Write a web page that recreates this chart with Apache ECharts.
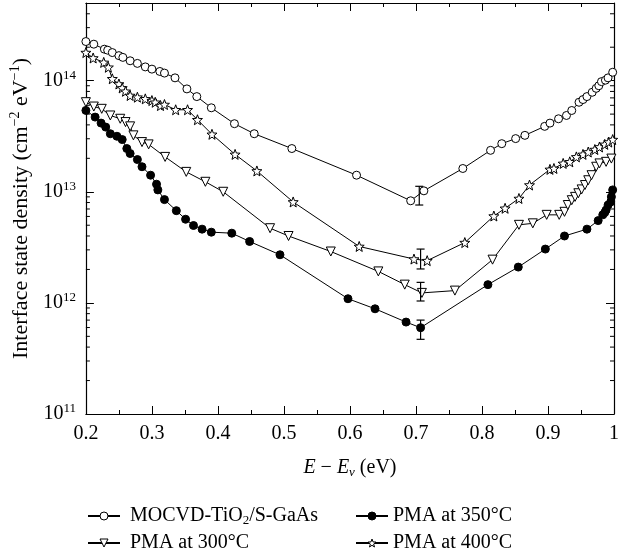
<!DOCTYPE html>
<html>
<head>
<meta charset="utf-8">
<script src="https://cdn.jsdelivr.net/npm/echarts@6/dist/echarts.min.js"></script>
<style>
html,body{margin:0;padding:0;background:#fff;}
#chart{width:633px;height:552px;}
</style>
</head>
<body>
<div id="chart"></div>
<script>
// ---- Data ----
const seriesNames = ['MOCVD-TiO2/S-GaAs', 'PMA at 300°C', 'PMA at 350°C', 'PMA at 400°C'];

const mocvdE = [0.200,0.212,0.228,0.233,0.240,0.250,0.256,0.267,0.278,0.290,0.300,0.312,0.319,0.335,0.353,0.368,0.390,0.425,0.455,0.512,0.610,0.692,0.712,0.771,0.813,0.830,0.851,0.865,0.895,0.903,0.916,0.928,0.936,0.947,0.953,0.959,0.967,0.973,0.977,0.981,0.987,0.991,0.998];
const mocvdD = [2.25e14,2.13e14,1.92e14,1.88e14,1.79e14,1.68e14,1.62e14,1.51e14,1.43e14,1.33e14,1.27e14,1.21e14,1.17e14,1.06e14,8.43e13,7.19e13,5.70e13,4.10e13,3.33e13,2.45e13,1.41e13,8.3e12,1.02e13,1.62e13,2.36e13,2.71e13,3.01e13,3.22e13,3.88e13,4.15e13,4.54e13,4.86e13,5.39e13,6.39e13,6.76e13,7.19e13,7.86e13,8.53e13,9.0e13,9.8e13,1.01e14,1.06e14,1.19e14];

const pma300E = [0.200,0.212,0.224,0.237,0.252,0.260,0.267,0.272,0.285,0.295,0.320,0.352,0.381,0.408,0.479,0.507,0.571,0.643,0.683,0.709,0.759,0.816,0.856,0.877,0.898,0.917,0.925,0.930,0.936,0.941,0.946,0.951,0.956,0.961,0.966,0.973,0.978,0.988,0.996];
const pma300D = [6.4e13,5.85e13,5.58e13,4.86e13,4.54e13,4.24e13,3.88e13,3.22e13,2.80e13,2.67e13,2.06e13,1.51e13,1.23e13,1.0e13,4.7e12,4.0e12,2.90e12,1.92e12,1.46e12,1.23e12,1.29e12,2.45e12,5.04e12,5.2e12,6.2e12,6.2e12,6.6e12,7.6e12,8.4e12,9.0e12,9.7e12,1.05e13,1.15e13,1.27e13,1.41e13,1.68e13,1.80e13,1.86e13,1.99e13];

const pma350E = [0.200,0.214,0.223,0.230,0.237,0.247,0.255,0.262,0.267,0.278,0.285,0.298,0.307,0.309,0.319,0.337,0.351,0.363,0.376,0.390,0.421,0.448,0.494,0.597,0.638,0.685,0.707,0.809,0.855,0.896,0.925,0.959,0.976,0.983,0.986,0.988,0.991,0.995,0.996,0.998];
const pma350D = [5.4e13,4.70e13,4.15e13,3.82e13,3.33e13,3.16e13,2.95e13,2.45e13,2.21e13,1.95e13,1.68e13,1.41e13,1.17e13,1.04e13,8.5e12,6.76e12,5.66e12,4.97e12,4.61e12,4.33e12,4.24e12,3.57e12,2.71e12,1.09e12,8.85e11,6.72e11,5.98e11,1.46e12,2.10e12,3.05e12,4.0e12,4.61e12,5.5e12,6.2e12,6.5e12,6.85e12,7.6e12,8.1e12,9.0e12,1.04e13];

const pma400E = [0.200,0.211,0.227,0.234,0.240,0.250,0.255,0.260,0.267,0.278,0.290,0.300,0.305,0.313,0.319,0.336,0.354,0.369,0.391,0.426,0.459,0.514,0.614,0.697,0.717,0.774,0.818,0.835,0.856,0.872,0.903,0.909,0.923,0.933,0.943,0.953,0.961,0.971,0.978,0.986,0.992,0.998];
const pma400D = [1.79e14,1.60e14,1.46e14,1.32e14,1.04e14,9.33e13,8.6e13,8.02e13,7.35e13,7.1e13,6.86e13,6.62e13,6.39e13,5.97e13,6.1e13,5.47e13,5.47e13,4.45e13,3.29e13,2.17e13,1.54e13,8.1e12,3.22e12,2.48e12,2.40e12,3.49e12,6.05e12,7.1e12,8.7e12,1.15e13,1.59e13,1.62e13,1.80e13,1.86e13,2.06e13,2.17e13,2.28e13,2.40e13,2.53e13,2.67e13,2.80e13,2.95e13];

// error bars: [E, low, high]
const errorBars = [
  [0.705, 7.6e12, 1.12e13],
  [0.707, 2.02e12, 3.05e12],
  [0.707, 1.04e12, 1.53e12],
  [0.707, 4.7e11, 7.0e11]
];

// axes
const xMin = 0.2, xMax = 1.0, xInterval = 0.1;
const yMin = 1e11, yMax = 5e14;
const yMinorTicks = [2e11,3e11,4e11,5e11,6e11,7e11,8e11,9e11,2e12,3e12,4e12,5e12,6e12,7e12,8e12,9e12,2e13,3e13,4e13,5e13,6e13,7e13,8e13,9e13,2e14,3e14,4e14];

// ---- Chart ----
const FONT = 'Liberation Serif';
const FS = 20;
const pair = (xs, ys) => xs.map((x, i) => [x, ys[i]]);
const starPath = 'path://M50 0 L62.34 33.01 L97.55 34.55 L69.97 56.49 L79.39 90.45 L50 71 L20.61 90.45 L30.03 56.49 L2.45 34.55 L37.66 33.01 Z';
const symbols = ['circle', 'triangle', 'circle', starPath];
const fills = ['#fff', '#fff', '#000', '#fff'];

const chart = echarts.init(document.getElementById('chart'), null, {renderer: 'canvas'});

function lineSeries(i, data, size, rotate) {
  return {
    name: seriesNames[i], type: 'line', data: data, xAxisIndex: 0, yAxisIndex: 0,
    symbol: symbols[i], symbolSize: size, symbolRotate: rotate || 0, showAllSymbol: true,
    lineStyle: {color: '#000', width: 1},
    itemStyle: {color: fills[i], borderColor: '#000', borderWidth: 1},
    emphasis: {disabled: true}, z: 3, clip: false
  };
}

function legendItem(i) {
  return {name: seriesNames[i],
    itemStyle: {color: fills[i], borderColor: '#000', borderWidth: 1}};
}

const legendText = {fontFamily: FONT, fontSize: FS, color: '#000', lineHeight: 22,
  rich: {sub: {fontFamily: FONT, fontSize: 13, lineHeight: 22, padding: [9, 0, 0, 0]}}};

const option = {
  animation: false,
  backgroundColor: '#fff',
  grid: {left: 85, right: 19, top: 3, bottom: 138, containLabel: false},
  textStyle: {fontFamily: FONT, color: '#000'},
  xAxis: [{
    type: 'value', min: xMin, max: xMax, interval: xInterval, position: 'bottom',
    axisLine: {show: true, lineStyle: {color: '#000', width: 1.2}},
    axisTick: {show: true, inside: true, length: 8, lineStyle: {color: '#000'}},
    minorTick: {show: true, splitNumber: 2, length: 4, lineStyle: {color: '#000'}},
    splitLine: {show: false},
    axisLabel: {fontFamily: FONT, fontSize: FS, color: '#000', margin: 10,
      formatter: v => (Math.abs(v - 1) < 1e-9 ? '1' : v.toFixed(1))},
    name: '{i|E} − {i|E}{sub|v} (eV)', nameLocation: 'middle', nameGap: 42,
    nameTextStyle: {fontFamily: FONT, fontSize: FS, color: '#000',
      rich: {i: {fontFamily: FONT, fontSize: FS, fontStyle: 'italic'},
             sub: {fontFamily: FONT, fontSize: 13, fontStyle: 'italic', padding: [10, 0, 0, 0]}}}
  }, {
    type: 'value', min: xMin, max: xMax, interval: xInterval, position: 'top',
    axisLine: {show: true, lineStyle: {color: '#000', width: 1.2}},
    axisTick: {show: true, inside: true, length: 8, lineStyle: {color: '#000'}},
    minorTick: {show: true, splitNumber: 2, length: 4, lineStyle: {color: '#000'}},
    splitLine: {show: false}, axisLabel: {show: false}
  }],
  yAxis: [{
    type: 'log', logBase: 10, min: yMin, max: yMax, position: 'left',
    axisLine: {show: true, lineStyle: {color: '#000', width: 1.2}},
    axisTick: {show: true, inside: true, length: 8, lineStyle: {color: '#000'}},
    minorTick: {show: false}, splitLine: {show: false},
    axisLabel: {fontFamily: FONT, fontSize: FS, color: '#000', margin: 10,
      formatter: function (v) {
        const l = Math.log10(v);
        if (Math.abs(l - Math.round(l)) > 1e-6) return '';
        return '{b|10}{s|' + Math.round(l) + '}';
      },
      rich: {b: {fontFamily: FONT, fontSize: FS}, s: {fontFamily: FONT, fontSize: 13, padding: [0, 0, 11, 0]}}},
    name: 'Interface state density (cm{sup|−2} eV{sup|−1})', nameLocation: 'middle', nameGap: 50, nameRotate: 90,
    nameTextStyle: {fontFamily: FONT, fontSize: 22, color: '#000',
      rich: {sup: {fontFamily: FONT, fontSize: 14, padding: [0, 0, 12, 0]}}}
  }, {
    type: 'log', logBase: 10, min: yMin, max: yMax, position: 'right',
    axisLine: {show: true, lineStyle: {color: '#000', width: 1.2}},
    axisTick: {show: true, inside: true, length: 8, lineStyle: {color: '#000'}},
    minorTick: {show: false}, splitLine: {show: false}, axisLabel: {show: false}
  }],
  legend: [{
    orient: 'vertical', left: 82, top: 500, width: 260, height: 80,
    itemWidth: 32, itemHeight: 10, itemGap: 5,
    data: [legendItem(0), legendItem(1)],
    textStyle: legendText,
    formatter: n => ' ' + n.replace('TiO2', 'TiO{sub|2}')
  }, {
    orient: 'vertical', left: 350, top: 500, width: 260, height: 80,
    itemWidth: 32, itemHeight: 10, itemGap: 5,
    data: [legendItem(2), legendItem(3)],
    textStyle: legendText,
    formatter: n => n
  }],
  series: [
    lineSeries(0, pair(mocvdE, mocvdD), 8),
    lineSeries(1, pair(pma300E, pma300D), 9, 180),
    lineSeries(2, pair(pma350E, pma350D), 8),
    lineSeries(3, pair(pma400E, pma400D), 10),
    {
      type: 'custom', name: 'errorbars', data: errorBars, xAxisIndex: 0, yAxisIndex: 0,
      encode: {x: 0, y: [1, 2]}, z: 4, clip: false, silent: true,
      renderItem: function (params, api) {
        const x = api.value(0);
        const lo = api.coord([x, api.value(1)]);
        const hi = api.coord([x, api.value(2)]);
        const w = 4;
        const st = {stroke: '#000', lineWidth: 1.2};
        return {type: 'group', children: [
          {type: 'line', shape: {x1: lo[0], y1: lo[1], x2: hi[0], y2: hi[1]}, style: st},
          {type: 'line', shape: {x1: lo[0] - w, y1: lo[1], x2: lo[0] + w, y2: lo[1]}, style: st},
          {type: 'line', shape: {x1: hi[0] - w, y1: hi[1], x2: hi[0] + w, y2: hi[1]}, style: st}
        ]};
      }
    },
    {
      type: 'custom', name: 'yminor', data: yMinorTicks.map(v => [xMin, v]), xAxisIndex: 0, yAxisIndex: 0,
      encode: {x: 0, y: 1}, z: 2, clip: false, silent: true,
      renderItem: function (params, api) {
        const p = api.coord([api.value(0), api.value(1)]);
        const cs = params.coordSys;
        const st = {stroke: '#000', lineWidth: 1};
        return {type: 'group', children: [
          {type: 'line', shape: {x1: cs.x, y1: p[1], x2: cs.x + 4, y2: p[1]}, style: st},
          {type: 'line', shape: {x1: cs.x + cs.width - 4, y1: p[1], x2: cs.x + cs.width, y2: p[1]}, style: st}
        ]};
      }
    }
  ]
};
chart.setOption(option);
</script>
</body>
</html>
